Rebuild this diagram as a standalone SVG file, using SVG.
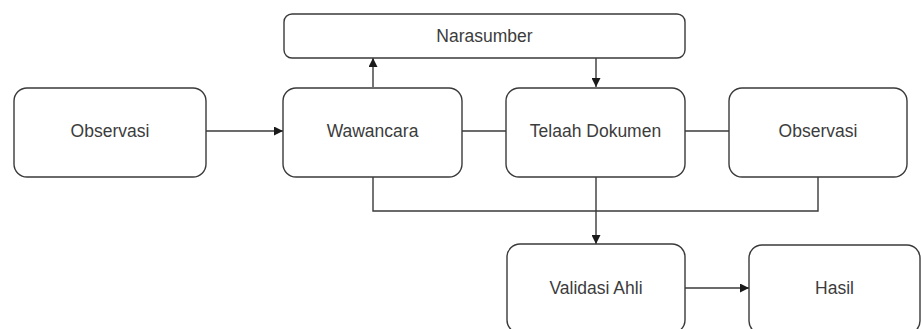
<svg xmlns="http://www.w3.org/2000/svg" width="921" height="329" viewBox="0 0 921 329">
<defs>
<style>
.box{fill:#fff;stroke:#3a3a3a;stroke-width:1.4}
.lbl{font-family:"Liberation Sans",Arial,sans-serif;font-size:17.5px;fill:#3c3c3c;text-anchor:middle;dominant-baseline:central}
.ln{fill:none;stroke:#3a3a3a;stroke-width:1.4}
</style>
<marker id="ah" viewBox="0 0 10 10" refX="10" refY="5" markerWidth="9" markerHeight="9" markerUnits="userSpaceOnUse" orient="auto">
<path d="M0,0 L10,5 L0,10 Z" fill="#1a1a1a"/>
</marker>
</defs>
<rect width="921" height="329" fill="#fff"/>
<g id="connectors">
<line class="ln" x1="206" y1="131" x2="283" y2="131" marker-end="url(#ah)"/>
<line class="ln" x1="373" y1="87" x2="373" y2="58" marker-end="url(#ah)"/>
<line class="ln" x1="596" y1="58" x2="596" y2="87" marker-end="url(#ah)"/>
<line class="ln" x1="462" y1="131" x2="506" y2="131"/>
<line class="ln" x1="685" y1="131" x2="729" y2="131"/>
<polyline class="ln" points="373,177 373,211 818,211 818,177"/>
<line class="ln" x1="596" y1="177" x2="596" y2="244" marker-end="url(#ah)"/>
<line class="ln" x1="685" y1="288" x2="749" y2="288" marker-end="url(#ah)"/>
</g>
<g id="narasumber"><rect class="box" x="284" y="14" width="401" height="44" rx="8"/><text class="lbl" x="484.5" y="36">Narasumber</text></g>
<g id="observasi1"><rect class="box" x="14" y="88" width="192" height="89" rx="13"/><text class="lbl" x="110" y="131">Observasi</text></g>
<g id="wawancara"><rect class="box" x="283" y="88" width="179" height="89" rx="13"/><text class="lbl" x="372.5" y="131">Wawancara</text></g>
<g id="telaah"><rect class="box" x="506" y="88" width="179" height="89" rx="13"/><text class="lbl" x="595.5" y="131">Telaah Dokumen</text></g>
<g id="observasi2"><rect class="box" x="729" y="88" width="178" height="89" rx="13"/><text class="lbl" x="818" y="131">Observasi</text></g>
<g id="validasi"><rect class="box" x="507" y="244" width="178" height="89" rx="13"/><text class="lbl" x="596" y="288">Validasi Ahli</text></g>
<g id="hasil"><rect class="box" x="749" y="245" width="171" height="89" rx="13"/><text class="lbl" x="834.5" y="288">Hasil</text></g>
</svg>
